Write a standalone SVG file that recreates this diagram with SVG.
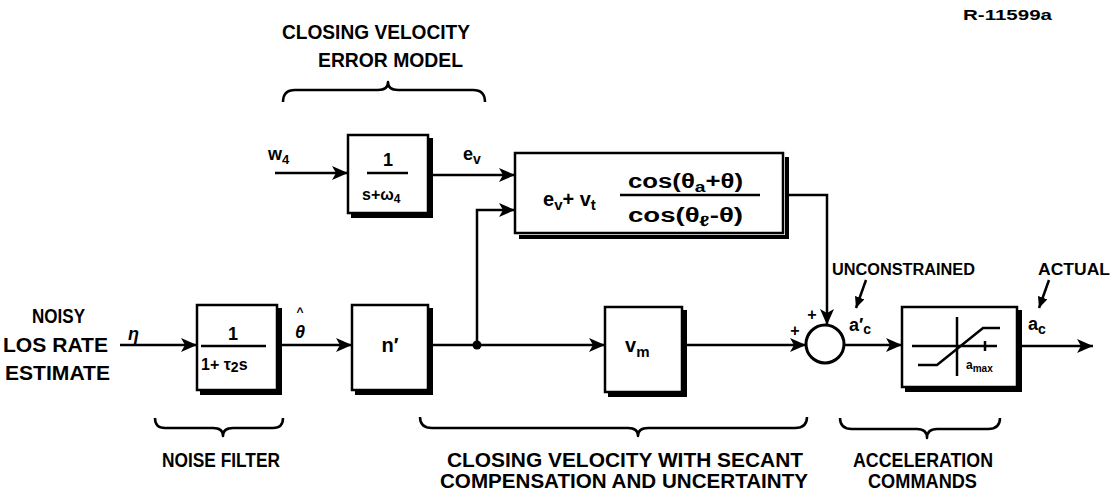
<svg xmlns="http://www.w3.org/2000/svg" width="1114" height="493" viewBox="0 0 1114 493">
<defs>
<style>
.t{font-family:"Liberation Sans",Arial,sans-serif;font-weight:bold;fill:#000}
.h{font-size:20px}
.m{font-size:18px}
.s{font-size:16px}
.box{fill:#fff;stroke:#000;stroke-width:2.5}
.sh{fill:none;stroke:#000;stroke-width:4}
.ln{fill:none;stroke:#000;stroke-width:2.5}
.br{fill:none;stroke:#000;stroke-width:2.5;stroke-linejoin:round}
</style>
<marker id="ah" markerUnits="userSpaceOnUse" markerWidth="18" markerHeight="14" refX="16" refY="7" orient="auto">
<path d="M0,0 L16,7 L0,14 L4,7 Z" fill="#000"/>
</marker>
<marker id="ahs" markerUnits="userSpaceOnUse" markerWidth="12" markerHeight="10" refX="11" refY="5" orient="auto">
<path d="M0,0 L11,5 L0,10 Z" fill="#000"/>
</marker>
</defs>
<rect width="1114" height="493" fill="#fff"/>

<text class="t" x="963" y="20" font-size="15" textLength="89" lengthAdjust="spacingAndGlyphs">R-11599a</text>

<g id="label-error-model">
<text class="t h" x="282" y="39" textLength="188" lengthAdjust="spacingAndGlyphs">CLOSING VELOCITY</text>
<text class="t h" x="318" y="67" textLength="145" lengthAdjust="spacingAndGlyphs">ERROR MODEL</text>
<path class="br" d="M283,102 Q283,90 295,90 H378 Q388,90 388,82 Q388,90 398,90 H473 Q485,90 485,102"/>
</g>

<g id="label-noisy">
<text class="t h" x="32" y="323" textLength="53" lengthAdjust="spacingAndGlyphs">NOISY</text>
<text class="t h" x="3" y="352" textLength="105" lengthAdjust="spacingAndGlyphs">LOS RATE</text>
<text class="t h" x="5" y="380" textLength="105" lengthAdjust="spacingAndGlyphs">ESTIMATE</text>
</g>

<g id="node-error-filter">
<path class="sh" d="M431,138 V216 H351"/>
<rect class="box" x="348" y="135" width="80" height="78"/>
<text class="t m" x="388" y="166" text-anchor="middle">1</text>
<line class="ln" x1="367" y1="173" x2="408" y2="173" stroke-width="2"/>
<text class="t" x="362" y="200" font-size="16">s+ω<tspan font-size="12" dy="3">4</tspan></text>
</g>

<g id="node-secant">
<path class="sh" d="M787,157 V237 H519"/>
<rect class="box" x="515" y="153" width="268" height="80"/>
<text class="t" x="543" y="206" font-size="20">e<tspan font-size="15" dy="4">v</tspan><tspan dy="-4">+ v</tspan><tspan font-size="15" dy="4">t</tspan></text>
<text class="t" x="628" y="188" font-size="20" textLength="115" lengthAdjust="spacingAndGlyphs">cos(θ<tspan font-size="15" dy="4">a</tspan><tspan dy="-4">+θ)</tspan></text>
<line class="ln" x1="620" y1="195" x2="760" y2="195" stroke-width="2"/>
<text class="t" x="628" y="222" font-size="20" textLength="115" lengthAdjust="spacingAndGlyphs">cos(θ<tspan font-size="15" dy="4">ℓ</tspan><tspan dy="-4">-θ)</tspan></text>
</g>

<g id="node-noise-filter">
<path class="sh" d="M280,308 V393 H200"/>
<rect class="box" x="197" y="305" width="80" height="85"/>
<text class="t m" x="233" y="340" text-anchor="middle">1</text>
<line class="ln" x1="201" y1="346" x2="266" y2="346" stroke-width="2"/>
<text class="t" x="201" y="370" font-size="16">1+ τ<tspan font-size="14" dy="2">2</tspan><tspan dy="-2">s</tspan></text>
</g>

<g id="node-n-prime">
<path class="sh" d="M431,308 V393 H355"/>
<rect class="box" x="352" y="305" width="76" height="85"/>
<text class="t" x="390" y="352" font-size="20" text-anchor="middle">n′</text>
</g>

<g id="node-vm">
<path class="sh" d="M685,310 V395 H608"/>
<rect class="box" x="605" y="307" width="77" height="85"/>
<text class="t" x="625" y="352" font-size="20">v<tspan font-size="15" dy="5">m</tspan></text>
</g>

<g id="node-sum">
<circle cx="825" cy="344" r="19" fill="#fff" stroke="#000" stroke-width="3"/>
<text class="t s" x="795" y="336" text-anchor="middle">+</text>
<text class="t s" x="812" y="320" text-anchor="middle">+</text>
</g>

<g id="node-saturation">
<path class="sh" d="M1020,310 V390 H905"/>
<rect class="box" x="902" y="307" width="115" height="80"/>
<line class="ln" x1="912" y1="346" x2="997" y2="346" stroke-width="2"/>
<line class="ln" x1="957" y1="317" x2="957" y2="376" stroke-width="2"/>
<line class="ln" x1="985" y1="341" x2="985" y2="351" stroke-width="2"/>
<path class="ln" d="M918,365 H937 L983,328 H1000" stroke-width="3"/>
<text class="t" x="966" y="369" font-size="12">a<tspan font-size="10" dy="3">max</tspan></text>
</g>

<g id="connectors">
<line class="ln" x1="275" y1="173" x2="348" y2="173" marker-end="url(#ah)"/>
<line class="ln" x1="428" y1="175" x2="515" y2="175" marker-end="url(#ah)"/>
<path class="ln" d="M477,345 V210 H515" marker-end="url(#ah)"/>
<path class="ln" d="M787,195 H827 V325" marker-end="url(#ah)"/>
<line class="ln" x1="120" y1="345" x2="197" y2="345" marker-end="url(#ah)"/>
<line class="ln" x1="280" y1="345" x2="352" y2="345" marker-end="url(#ah)"/>
<line class="ln" x1="431" y1="345" x2="605" y2="345" marker-end="url(#ah)"/>
<circle cx="477" cy="345" r="4.5" fill="#000"/>
<line class="ln" x1="685" y1="345" x2="806" y2="345" marker-end="url(#ah)"/>
<line class="ln" x1="844" y1="345" x2="902" y2="345" marker-end="url(#ah)"/>
<line class="ln" x1="1020" y1="346" x2="1093" y2="346" marker-end="url(#ah)"/>
<line class="ln" x1="866" y1="280" x2="856" y2="308" marker-end="url(#ahs)"/>
<line class="ln" x1="1049" y1="280" x2="1039" y2="308" marker-end="url(#ahs)"/>
</g>

<g id="signal-labels">
<text class="t m" x="268" y="160">w<tspan font-size="13" dy="4">4</tspan></text>
<text class="t m" x="463" y="160">e<tspan font-size="14" dy="4">v</tspan></text>
<text class="t m" x="128" y="340" font-style="italic">η</text>
<text class="t" x="300" y="316" font-size="12" text-anchor="middle">^</text>
<text class="t m" x="300" y="338" text-anchor="middle" font-style="italic">θ</text>
<text class="t" x="832" y="275" font-size="16" textLength="143" lengthAdjust="spacingAndGlyphs">UNCONSTRAINED</text>
<text class="t" x="1038" y="275" font-size="16" textLength="72" lengthAdjust="spacingAndGlyphs">ACTUAL</text>
<text class="t m" x="849" y="331">a′<tspan font-size="14" dy="3">c</tspan></text>
<text class="t m" x="1028" y="330">a<tspan font-size="14" dy="4">c</tspan></text>
</g>

<g id="label-noise-filter">
<path class="br" d="M155,418 Q155,428 165,428 H213 Q223,428 223,436 Q223,428 233,428 H273 Q283,428 283,418"/>
<text class="t h" x="162" y="467" textLength="118" lengthAdjust="spacingAndGlyphs">NOISE FILTER</text>
</g>

<g id="label-closing">
<path class="br" d="M420,417 Q420,428 432,428 H628 Q638,428 638,436 Q638,428 648,428 H795 Q807,428 807,417"/>
<text class="t h" x="447" y="467" textLength="356" lengthAdjust="spacingAndGlyphs">CLOSING VELOCITY WITH SECANT</text>
<text class="t h" x="440" y="488" textLength="368" lengthAdjust="spacingAndGlyphs">COMPENSATION  AND UNCERTAINTY</text>
</g>

<g id="label-accel">
<path class="br" d="M840,418 Q840,429 852,429 H917 Q927,429 927,438 Q927,429 937,429 H988 Q1000,429 1000,418"/>
<text class="t h" x="853" y="467" textLength="140" lengthAdjust="spacingAndGlyphs">ACCELERATION</text>
<text class="t h" x="868" y="488" textLength="109" lengthAdjust="spacingAndGlyphs">COMMANDS</text>
</g>
</svg>
